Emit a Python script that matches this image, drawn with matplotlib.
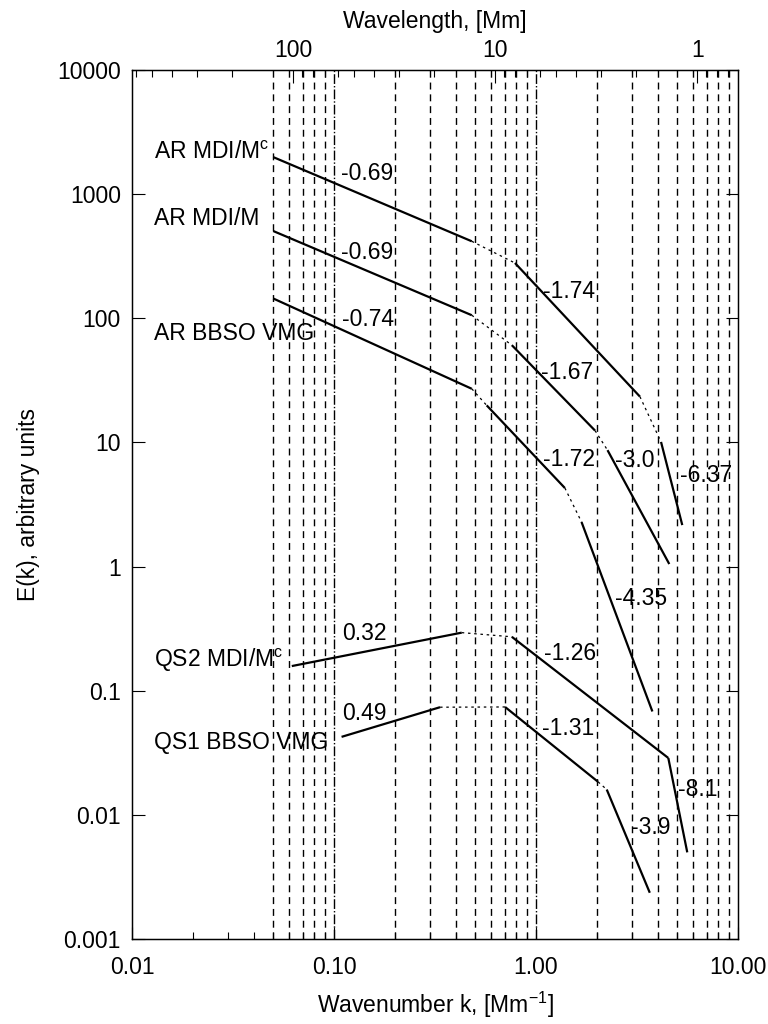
import numpy as np
import matplotlib
matplotlib.use('Agg')
import matplotlib.pyplot as plt
from matplotlib.ticker import FixedLocator, NullLocator, LogLocator, FixedFormatter, NullFormatter

plt.rcParams['font.family'] = ['Liberation Sans', 'DejaVu Sans']
plt.rcParams['mathtext.fontset'] = 'custom'
plt.rcParams['mathtext.rm'] = 'Liberation Sans'
plt.rcParams['mathtext.it'] = 'Liberation Sans'
FS = 16.5

# Piecewise power-law fits E(k) = E0 * (k/k0)**slope for each spectrum
# (k0, k1 in Mm^-1, E0 at k0, slope of the segment)
ar_mdi_mc_k0 = [0.05, 0.787, 4.16]
ar_mdi_mc_k1 = [0.481, 3.27, 5.30]
ar_mdi_mc_e0 = [1990.0, 279.0, 10.1]
ar_mdi_mc_slope = [-0.69, -1.74, -6.37]

ar_mdi_m_k0 = [0.05, 0.759, 2.26]
ar_mdi_m_k1 = [0.481, 1.96, 4.57]
ar_mdi_m_e0 = [505.0, 60.8, 8.67]
ar_mdi_m_slope = [-0.69, -1.67, -3.0]

ar_bbso_k0 = [0.05, 0.570, 1.68]
ar_bbso_k1 = [0.481, 1.39, 3.77]
ar_bbso_e0 = [144.5, 19.9, 2.29]
ar_bbso_slope = [-0.74, -1.72, -4.35]

qs2_mdi_k0 = [0.0618, 0.759, 4.52]
qs2_mdi_k1 = [0.429, 4.52, 5.61]
qs2_mdi_e0 = [0.158, 0.272, 0.0287]
qs2_mdi_slope = [0.32, -1.26, -8.1]

qs1_bbso_k0 = [0.109, 0.703, 2.24]
qs1_bbso_k1 = [0.335, 2.03, 3.66]
qs1_bbso_e0 = [0.0425, 0.0740, 0.0160]
qs1_bbso_slope = [0.49, -1.31, -3.9]

series_names = [r'AR MDI/M$^{\rm c}$', 'AR MDI/M', 'AR BBSO VMG',
                r'QS2 MDI/M$^{\rm c}$', 'QS1 BBSO VMG']
series_k0 = [ar_mdi_mc_k0, ar_mdi_m_k0, ar_bbso_k0, qs2_mdi_k0, qs1_bbso_k0]
series_k1 = [ar_mdi_mc_k1, ar_mdi_m_k1, ar_bbso_k1, qs2_mdi_k1, qs1_bbso_k1]
series_e0 = [ar_mdi_mc_e0, ar_mdi_m_e0, ar_bbso_e0, qs2_mdi_e0, qs1_bbso_e0]
series_slope = [ar_mdi_mc_slope, ar_mdi_m_slope, ar_bbso_slope,
                qs2_mdi_slope, qs1_bbso_slope]

# where the names and the slope values are written (k, E)
name_pos = [(0.01285, 2183), (0.01285, 641), (0.01285, 76.0),
            (0.01285, 0.176), (0.01285, 0.0386)]
slope_pos = [
    [(0.1466, 1479), (1.456, 163.7), (6.95, 5.46)],
    [(0.1466, 337), (1.42, 36.4), (3.09, 7.19)],
    [(0.1466, 98.6), (1.456, 7.33), (3.31, 0.556)],
    [(0.141, 0.290), (1.47, 0.200), (6.34, 0.0161)],
    [(0.141, 0.0659), (1.44, 0.0499), (3.71, 0.00794)],
]

# vertical reference lines in k
grid_k = [0.05, 0.06, 0.07, 0.08, 0.09,
          0.2, 0.3, 0.4, 0.5, 0.6, 0.7, 0.8, 0.9,
          2, 3, 4, 5, 6, 7, 8, 9]
grid_k_decade = [0.1, 1.0]

xticks = [0.01, 0.1, 1.0, 10.0]
xticklabels = ['0.01', '0.10', '1.00', '10.00']
yticks = [0.001, 0.01, 0.1, 1, 10, 100, 1000, 10000]
yticklabels = ['0.001', '0.01', '0.1', '1', '10', '100', '1000', '10000']
wl_ticks = [100, 10, 1]
wl_ticklabels = ['100', '10', '1']
wl_minor = [600, 500, 400, 300, 200,
            90, 80, 70, 60, 50, 40, 30, 20,
            9, 8, 7, 6, 5, 4, 3, 2,
            0.9, 0.8, 0.7]

fig = plt.figure(figsize=(7.68, 10.24), dpi=100)
ax = fig.add_axes([0.1719, 0.0830, 0.7890, 0.8486])
ax.set_xscale('log')
ax.set_yscale('log')
ax.set_xlim(0.01, 10)
ax.set_ylim(0.001, 10000)

for k in grid_k:
    ax.axvline(k, color='black', lw=1.0, ls=(0, (5, 3.5)), zorder=1)
for k in grid_k_decade:
    ax.axvline(k, color='black', lw=1.0, ls=(0, (7, 1.5, 1, 1.5)), zorder=1)

for name, k0s, k1s, e0s, slopes, npos, spos in zip(
        series_names, series_k0, series_k1, series_e0, series_slope,
        name_pos, slope_pos):
    ends = []
    for k0, k1, e0, s in zip(k0s, k1s, e0s, slopes):
        kk = np.array([k0, k1])
        ee = e0 * (kk / k0) ** s
        ax.plot(kk, ee, color='black', lw=1.6, solid_capstyle='butt', zorder=3)
        ends.append((kk, ee))
    # dotted joins between the fitted ranges
    for (ka, ea), (kb, eb) in zip(ends[:-1], ends[1:]):
        ax.plot([ka[1], kb[0]], [ea[1], eb[0]], color='black', lw=0.9,
                ls=(0, (2, 3)), zorder=3)
    ax.text(npos[0], npos[1], name, fontsize=FS, ha='left', va='center', zorder=4)
    for (xk, ye), s in zip(spos, slopes):
        ax.text(xk, ye, f'{s:.1f}' if s == -3.0 else f'{s:g}', fontsize=FS,
                ha='center', va='center', zorder=4)

ax.xaxis.set_major_locator(FixedLocator(xticks))
ax.xaxis.set_major_formatter(FixedFormatter(xticklabels))
ax.xaxis.set_minor_locator(LogLocator(base=10, subs=np.arange(2, 10)))
ax.xaxis.set_minor_formatter(NullFormatter())
ax.yaxis.set_major_locator(FixedLocator(yticks))
ax.yaxis.set_major_formatter(FixedFormatter(yticklabels))
ax.yaxis.set_minor_locator(NullLocator())

ax.tick_params(axis='x', which='both', direction='in', bottom=True, top=False,
               labelsize=FS, pad=12)
ax.tick_params(axis='x', which='major', length=9, width=0.8)
ax.tick_params(axis='x', which='minor', length=5, width=0.8)
ax.tick_params(axis='y', which='major', direction='in', left=True, right=True,
               length=9, width=0.8, labelsize=FS, pad=8)

for sp in ax.spines.values():
    sp.set_linewidth(1.0)

ax.set_xlabel(r'Wavenumber k, [Mm$^{-1}$]', fontsize=FS, labelpad=8)
ax.set_ylabel('E(k), arbitrary units', fontsize=FS, labelpad=12)

# wavelength scale on top: lambda = 2 pi / k, ticks placed at k = 2 pi / lambda
top = ax.twiny()
top.set_xscale('log')
top.set_xlim(ax.get_xlim())
top.xaxis.set_major_locator(FixedLocator([2 * np.pi / w for w in wl_ticks]))
top.xaxis.set_major_formatter(FixedFormatter(wl_ticklabels))
top.xaxis.set_minor_locator(FixedLocator([2 * np.pi / w for w in wl_minor]))
top.xaxis.set_minor_formatter(NullFormatter())
top.tick_params(axis='x', which='both', direction='in', labelsize=FS, pad=6)
top.tick_params(axis='x', which='major', length=9, width=0.8)
top.tick_params(axis='x', which='minor', length=5, width=0.8)
top.set_xlabel('Wavelength, [Mm]', fontsize=FS, labelpad=8)

fig.savefig('out.png', dpi=100)
